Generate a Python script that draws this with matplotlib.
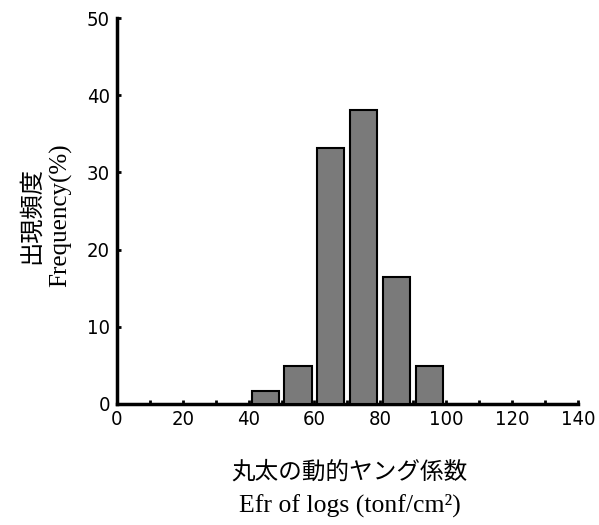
import matplotlib
matplotlib.use('Agg')
from matplotlib import pyplot as plt
from matplotlib import font_manager
import numpy as np

# Data
bin_centers = [45, 55, 65, 75, 85, 95]
frequency = [1.7, 4.9, 33.2, 38.1, 16.5, 4.9]
x_ticks = [0, 20, 40, 60, 80, 100, 120, 140]
y_ticks = [0, 10, 20, 30, 40, 50]

serif_font = ['Liberation Serif', 'DejaVu Serif']
jp_font = ['Noto Sans CJK JP', 'DejaVu Sans']

# condensed sans for the tick numbers
tick_prop = font_manager.FontProperties(family='DejaVu Sans', stretch='condensed',
                                        weight='light', size=14.5)

fig = plt.figure(figsize=(5.99, 5.25), dpi=100)
ax = fig.add_axes([0.195, 0.2305, 0.77, 0.735])

ax.bar(bin_centers, frequency, width=8.2, color='#7a7a7a',
       edgecolor='black', linewidth=1.5, zorder=3)

ax.set_xlim(0, 140)
ax.set_ylim(0, 50)
ax.set_xticks(x_ticks)
ax.set_xticks(np.arange(10, 140, 20), minor=True)
ax.set_yticks(y_ticks)

for s in ['top', 'right']:
    ax.spines[s].set_visible(False)
for s in ['left', 'bottom']:
    ax.spines[s].set_linewidth(2.5)

ax.tick_params(axis='both', which='both', direction='in', length=3, width=2)
ax.tick_params(axis='x', pad=4)
ax.tick_params(axis='y', pad=5)
for lab in ax.get_xticklabels() + ax.get_yticklabels():
    lab.set_fontproperties(tick_prop)

# Axis titles (Japanese + English)
fig.text(0.584, 0.101, '丸太の動的ヤング係数', family=jp_font, fontsize=17,
         ha='center', va='center')
fig.text(0.584, 0.038, 'Efr of logs (tonf/cm²)', family=serif_font, fontsize=18.5,
         ha='center', va='center')
fig.text(0.052, 0.59, '出現頻度', family=jp_font, fontsize=17.5,
         rotation=90, ha='center', va='center')
fig.text(0.102, 0.59, 'Frequency(%)', family=serif_font, fontsize=18,
         rotation=90, ha='center', va='center')

plt.savefig('out.png', dpi=100)
